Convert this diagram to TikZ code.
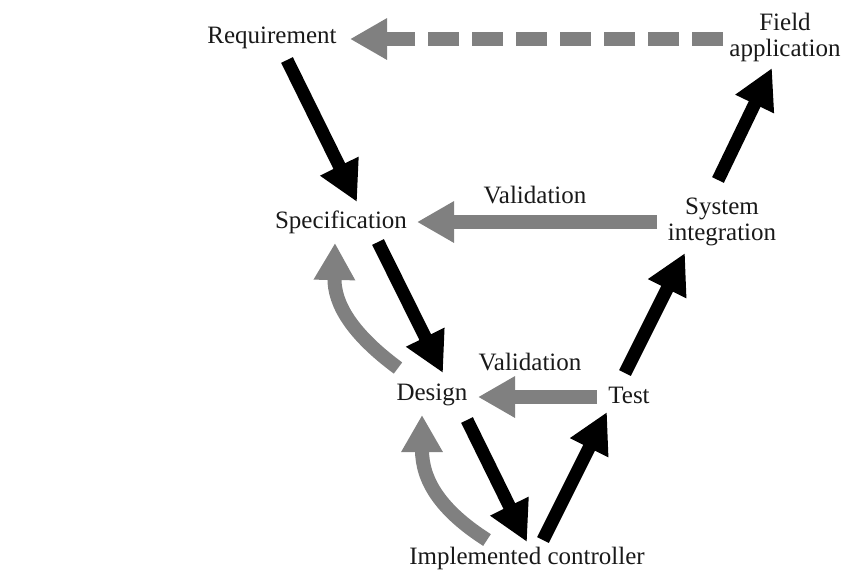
\documentclass[tikz,border=0pt]{standalone}
\usepackage{fontspec}
\setmainfont{Liberation Serif}
\usetikzlibrary{arrows.meta}
\definecolor{arrgray}{RGB}{128,128,128}
\definecolor{txt}{RGB}{25,25,25}
\begin{document}
\begin{tikzpicture}[x=1pt,y=-1pt,
  lbl/.style={font=\fontsize{25}{26}\selectfont, text=txt, inner sep=0pt, align=center},
  blk/.style={line width=13pt, draw=black, -{Triangle[width=40pt,length=40pt]}},
  gry/.style={line width=14pt, draw=arrgray, -{Triangle[width=39pt,length=37pt]}},
  gdash/.style={gry, dash pattern=on 31pt off 13pt}
]
\useasboundingbox (0,0) rectangle (849,574);
% labels
\node[lbl] (req)  at (272,38)  {Requirement};
\node[lbl] (field) at (785,37) {Field\\application};
\node[lbl] (spec) at (341,222) {Specification};
\node[lbl] (val1) at (535,195) {Validation};
\node[lbl] (sys)  at (722,222) {System\\integration};
\node[lbl] (val2) at (530,362) {Validation};
\node[lbl] (des)  at (432,395) {Design};
\node[lbl] (test) at (629,395) {Test};
\node[lbl] (impl) at (527,558) {Implemented controller};
% connector end points
\coordinate (fr1) at (723,39);  \coordinate (to1) at (350,39);
\coordinate (fr2) at (287,60);  \coordinate (to2) at (357,202);
\coordinate (fr3) at (718,180); \coordinate (to3) at (772,68);
\coordinate (fr4) at (657,222); \coordinate (to4) at (417,222);
\coordinate (fr5) at (378,242); \coordinate (to5) at (443,373);
\coordinate (fr6) at (398,368); \coordinate (to6) at (335,243);
\coordinate (fr7) at (597,397); \coordinate (to7) at (478,397);
\coordinate (fr8) at (625,373); \coordinate (to8) at (685,253);
\coordinate (fr9) at (467,420); \coordinate (to9) at (527,542);
\coordinate (fr10) at (543,540); \coordinate (to10) at (607,412);
\coordinate (fr11) at (487,540); \coordinate (to11) at (422,415);
% connectors
\draw[gdash] (fr1) -- (to1);
\draw[blk] (fr2) -- (to2);
\draw[blk] (fr3) -- (to3);
\draw[gry] (fr4) -- (to4);
\draw[blk] (fr5) -- (to5);
\draw[gry] (fr6) .. controls (352,334) and (334,304) .. (to6);
\draw[gry] (fr7) -- (to7);
\draw[blk] (fr8) -- (to8);
\draw[blk] (fr9) -- (to9);
\draw[blk] (fr10) -- (to10);
\draw[gry] (fr11) .. controls (440,510) and (422,480) .. (to11);
\end{tikzpicture}
\end{document}
